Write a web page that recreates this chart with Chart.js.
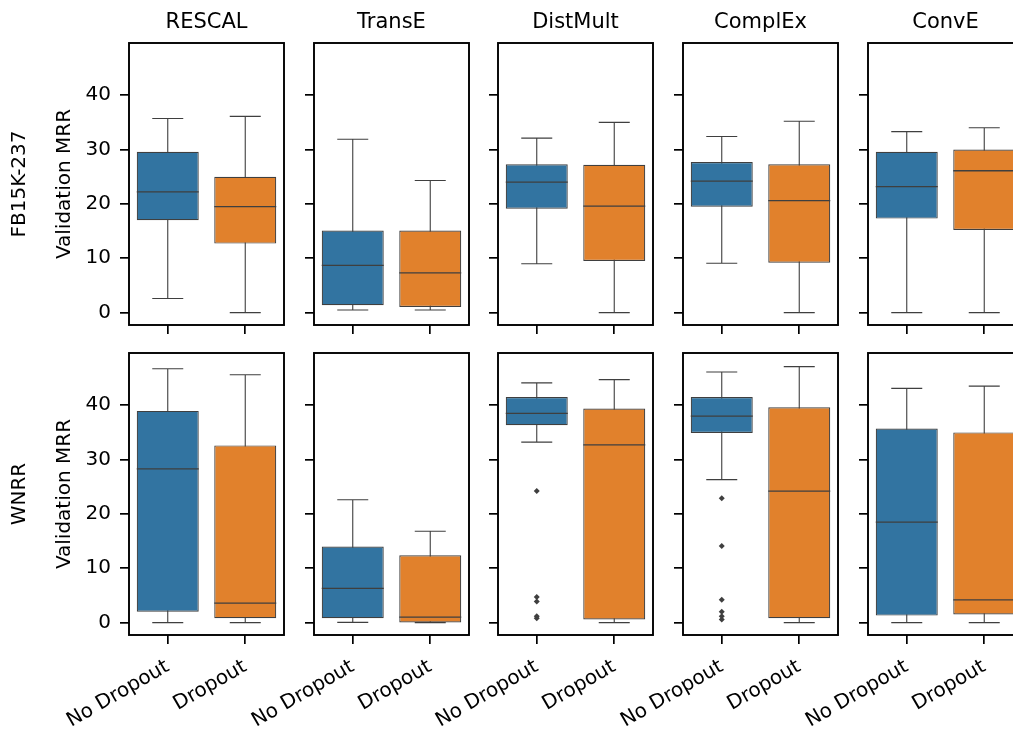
<!DOCTYPE html>
<html>
<head>
<meta charset="utf-8">
<title>Validation MRR boxplots</title>
<script src="https://cdn.jsdelivr.net/npm/chart.js@4.4.0/dist/chart.umd.min.js"></script>
<style>
    body { margin: 0; width: 1013px; height: 730px; overflow: hidden; background: #fff; position: relative; }
    canvas { position: absolute; }
</style>
</head>
<body>
<script>
const models = ["RESCAL", "TransE", "DistMult", "ComplEx", "ConvE"];
const groups = ["No Dropout", "Dropout"];
const rowNames = ["FB15K-237", "WNRR"];
const yTicks = [0, 10, 20, 30, 40];

// per model: [No Dropout, Dropout]
const fbLow = [[2.6, 0.0], [0.5, 0.5], [9.0, 0.0], [9.1, 0.0], [0.0, 0.0]];
const fbQ1 = [[17.0, 12.7], [1.35, 1.05], [19.1, 9.5], [19.5, 9.2], [17.3, 15.2]];
const fbMedian = [[22.2, 19.5], [8.7, 7.3], [24.0, 19.6], [24.2, 20.6], [23.2, 26.1]];
const fbQ3 = [[29.6, 25.0], [15.1, 15.1], [27.3, 27.2], [27.7, 27.3], [29.6, 30.0]];
const fbHigh = [[35.7, 36.1], [31.9, 24.3], [32.1, 35.0], [32.4, 35.2], [33.3, 34.0]];
const fbOutliers = [[[], []], [[], []], [[], []], [[], []], [[], []]];

const wnLow = [[0.0, 0.0], [0.05, 0.0], [33.2, 0.0], [26.3, 0.0], [0.0, 0.0]];
const wnQ1 = [[2.0, 0.8], [0.8, 0.05], [36.3, 0.6], [34.9, 0.8], [1.3, 1.5]];
const wnMedian = [[28.3, 3.6], [6.3, 1.0], [38.5, 32.7], [38.0, 24.2], [18.5, 4.2]];
const wnQ3 = [[38.95, 32.6], [14.0, 12.4], [41.5, 39.4], [41.5, 39.6], [35.7, 35.0]];
const wnHigh = [[46.7, 45.6], [22.6, 16.8], [44.1, 44.7], [46.1, 47.1], [43.1, 43.5]];
const wnOutliers = [[[], []], [[], []], [[24.2, 4.7, 3.9, 1.2, 0.8], []], [[22.9, 14.1, 4.2, 2.0, 1.2, 0.6], []], [[], []]];

const rows = [
    { low: fbLow, q1: fbQ1, median: fbMedian, q3: fbQ3, high: fbHigh, outliers: fbOutliers },
    { low: wnLow, q1: wnQ1, median: wnMedian, q3: wnQ3, high: wnHigh, outliers: wnOutliers }
];

const boxColors = ["#3274a1", "#e1812c"];
const gray = "#3f3f3f";
const yMin = -2.27;
const yMax = 49.6;

const colLeft = [129, 314, 498, 683, 868];
const rowTop = [43, 353];
const panelW = 155;
const panelH = 282;
const fontSize = 20;

Chart.defaults.font.family = "'DejaVu Sans', sans-serif";
Chart.defaults.color = "#000";

function makePanel(r, c) {
    const row = rows[r];
    const L = 129, R = 10;
    const T = r === 0 ? 43 : 20;
    const B = r === 0 ? 20 : 97;

    const canvas = document.createElement("canvas");
    canvas.width = L + panelW + R;
    canvas.height = T + panelH + B;
    canvas.style.left = (colLeft[c] - L) + "px";
    canvas.style.top = (rowTop[r] - T) + "px";
    document.body.appendChild(canvas);

    const outlierPoints = [];
    groups.forEach(function(g, i) {
        row.outliers[c][i].forEach(function(v) {
            outlierPoints.push({ x: g, y: v });
        });
    });

    const boxParts = {
        id: "boxParts",
        beforeDatasetsDraw(chart) {
            const ctx = chart.ctx;
            const x = chart.scales.x, y = chart.scales.y;
            const bars = chart.getDatasetMeta(0).data;
            ctx.save();
            ctx.strokeStyle = gray;
            ctx.lineWidth = 1.1;
            groups.forEach(function(g, i) {
                const cx = x.getPixelForValue(i);
                const cap = bars[i].width / 4;
                const yl = y.getPixelForValue(row.low[c][i]);
                const yh = y.getPixelForValue(row.high[c][i]);
                ctx.beginPath();
                ctx.moveTo(cx, yl); ctx.lineTo(cx, yh);
                ctx.moveTo(cx - cap, yl); ctx.lineTo(cx + cap, yl);
                ctx.moveTo(cx - cap, yh); ctx.lineTo(cx + cap, yh);
                ctx.stroke();
            });
            ctx.restore();
        },
        afterDatasetsDraw(chart) {
            const ctx = chart.ctx;
            const x = chart.scales.x, y = chart.scales.y;
            const bars = chart.getDatasetMeta(0).data;
            const a = chart.chartArea;
            ctx.save();
            ctx.strokeStyle = gray;
            ctx.lineWidth = 1.3;
            groups.forEach(function(g, i) {
                const cx = x.getPixelForValue(i);
                const half = bars[i].width / 2;
                const ym = y.getPixelForValue(row.median[c][i]);
                ctx.beginPath();
                ctx.moveTo(cx - half, ym); ctx.lineTo(cx + half, ym);
                ctx.stroke();
            });
            ctx.strokeStyle = "#000";
            ctx.lineWidth = 1.9;
            ctx.strokeRect(a.left, a.top, a.right - a.left, a.bottom - a.top);

            ctx.fillStyle = "#000";
            ctx.textAlign = "center";
            ctx.textBaseline = "middle";
            if (r === 0) {
                ctx.font = "21px 'DejaVu Sans'";
                ctx.fillText(models[c], (a.left + a.right) / 2, a.top - 20.5);
            }
            if (c === 0) {
                ctx.font = fontSize + "px 'DejaVu Sans'";
                ctx.translate(20, (a.top + a.bottom) / 2);
                ctx.rotate(-Math.PI / 2);
                ctx.fillText(rowNames[r], 0, 0);
            }
            ctx.restore();
        }
    };

    new Chart(canvas, {
        type: "bar",
        data: {
            labels: groups,
            datasets: [{
                data: groups.map(function(g, i) { return [row.q1[c][i], row.q3[c][i]]; }),
                backgroundColor: boxColors,
                borderColor: gray,
                borderWidth: 1.2,
                borderSkipped: false,
                barPercentage: 0.8,
                categoryPercentage: 1.0
            }, {
                type: "line",
                data: outlierPoints,
                showLine: false,
                pointStyle: "rectRot",
                pointRadius: 3,
                backgroundColor: gray,
                borderColor: gray,
                borderWidth: 0
            }]
        },
        options: {
            responsive: false,
            animation: false,
            events: [],
            layout: { padding: { top: T, left: 0, right: R, bottom: 0 } },
            plugins: {
                legend: { display: false },
                tooltip: { enabled: false },
                title: { display: false }
            },
            scales: {
                x: {
                    offset: true,
                    border: { display: false },
                    grid: { drawOnChartArea: false, offset: false, tickLength: 9, lineWidth: 1.7, color: "#000" },
                    ticks: {
                        display: r === 1,
                        autoSkip: false,
                        minRotation: 30,
                        maxRotation: 30,
                        padding: 11,
                        font: { size: fontSize },
                        color: "#000"
                    },
                    afterFit: function(s) { s.height = B; s.paddingLeft = 0; s.paddingRight = 0; }
                },
                y: {
                    min: yMin,
                    max: yMax,
                    afterBuildTicks: function(s) { s.ticks = yTicks.map(function(v) { return { value: v }; }); },
                    border: { display: false },
                    grid: { drawOnChartArea: false, tickLength: 9, lineWidth: 1.7, color: "#000" },
                    ticks: { display: c === 0, padding: 9, font: { size: fontSize }, color: "#000" },
                    title: {
                        display: c === 0,
                        text: "Validation MRR",
                        color: "#000",
                        font: { size: fontSize },
                        padding: { top: 53, bottom: 0 }
                    },
                    afterFit: function(s) { s.width = L; s.paddingTop = 0; s.paddingBottom = 0; }
                }
            }
        },
        plugins: [boxParts]
    });
}

for (let r = 0; r < 2; r++) {
    for (let c = 0; c < models.length; c++) {
        makePanel(r, c);
    }
}
</script>
</body>
</html>
